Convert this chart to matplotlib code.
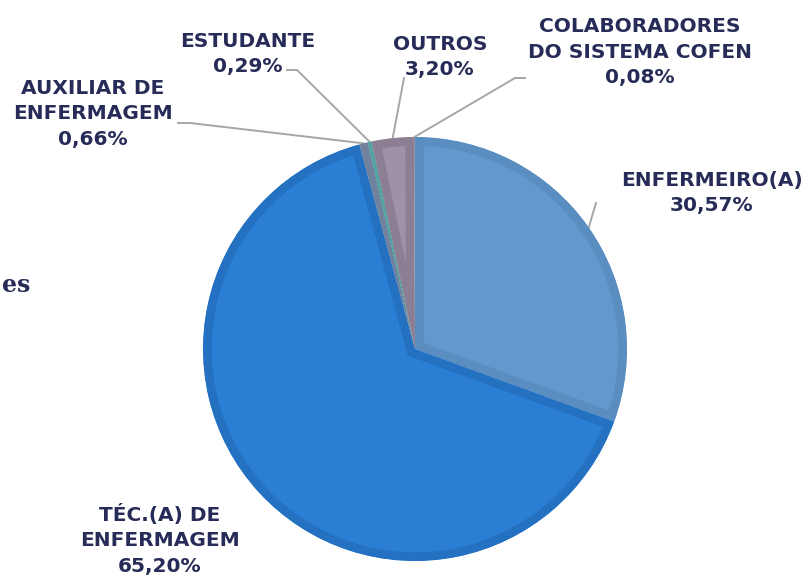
import matplotlib.pyplot as plt
from matplotlib.patches import Wedge
import numpy as np

# dados do gráfico (sentido horário a partir do topo)
categorias = ["ENFERMEIRO(A)", "TÉC.(A) DE\nENFERMAGEM", "AUXILIAR DE\nENFERMAGEM",
              "ESTUDANTE", "OUTROS", "COLABORADORES\nDO SISTEMA COFEN"]
percentuais = [30.57, 65.20, 0.66, 0.29, 3.20, 0.08]

cores = ["#6199cf", "#2a7fd4", "#7f90b2", "#5cb8b5", "#a092a6", "#b0a8b4"]
bordas = ["#5a8ec1", "#2471c2", "#71829f", "#4fa3a0", "#8d7f93", "#9a92a0"]

# posições dos rótulos em pixels (x, y a partir do topo)
pos_rotulos = [(712, 193), (160, 540), (93, 114), (248, 54), (440, 57), (640, 52)]
# início da linha de chamada (pixels) e cotovelo opcional
linhas = [[(596, 203)], None, [(178, 123), (190, 123)], [(287, 70), (297, 70)],
          [(404, 78)], [(525, 78), (515, 78)]]

W, H = 804, 579
centro = (415, H - 349)
raio = 212
cor_texto = "#262b57"

fig = plt.figure(figsize=(W / 100, H / 100), dpi=100)
ax = fig.add_axes([0, 0, 1, 1])

wedges, _ = ax.pie(percentuais, center=centro, radius=raio, startangle=90,
                   counterclock=False, colors=cores, frame=True)
ax.set_xlim(0, W)
ax.set_ylim(0, H)
ax.set_aspect("equal")
ax.axis("off")
for w, b in zip(wedges, bordas):
    # borda interna: traço grosso recortado pela própria fatia
    recorte = Wedge(w.center, w.r, w.theta1, w.theta2, transform=ax.transData)
    w.set_edgecolor(b)
    w.set_linewidth(12.5)
    w.set_joinstyle("miter")
    w.set_clip_on(True)
    w.set_clip_path(recorte)
    w.set_zorder(3)

for i, (cat, p) in enumerate(zip(categorias, percentuais)):
    x, y = pos_rotulos[i]
    txt = cat + "\n" + f"{p:.2f}".replace(".", ",") + "%"
    ax.text(x, H - y, txt, ha="center", va="center", fontsize=14.5, fontweight="bold",
            color=cor_texto, family="DejaVu Sans", linespacing=1.45)
    if linhas[i] is not None:
        w = wedges[i]
        ang = np.deg2rad((w.theta1 + w.theta2) / 2)
        fim = (centro[0] + raio * np.cos(ang), centro[1] + raio * np.sin(ang))
        pts = [(px, H - py) for px, py in linhas[i]] + [fim]
        xs, ys = zip(*pts)
        ax.plot(xs, ys, color="#a6a6a6", lw=1.4, zorder=2)

ax.text(30, H - 285, "es", ha="right", va="center", fontsize=17, fontweight="bold",
        color=cor_texto, family="DejaVu Serif")

fig.savefig("out.png", dpi=100)
